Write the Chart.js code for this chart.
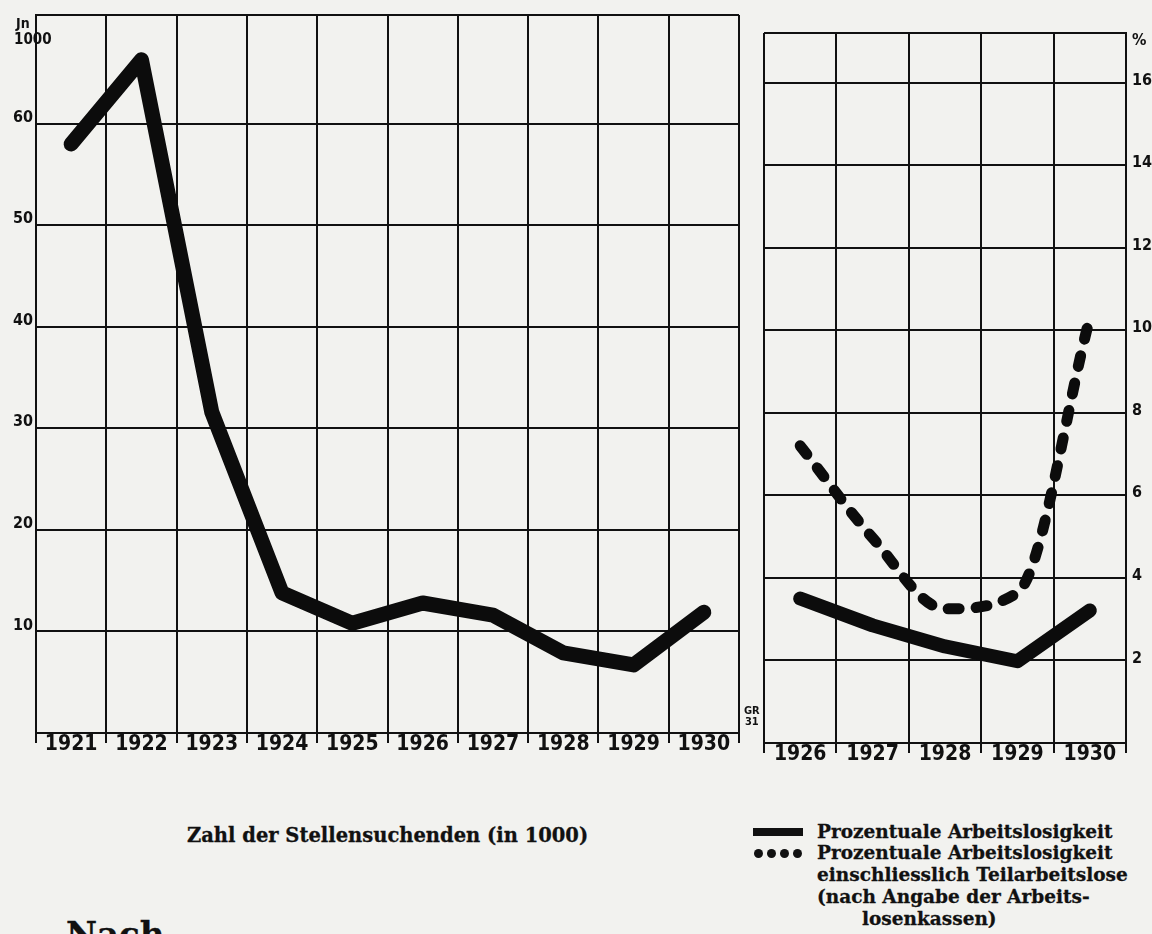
<!DOCTYPE html>
<html><head><meta charset="utf-8">
<script src="https://cdn.jsdelivr.net/npm/chart.js@4.4.0/dist/chart.umd.min.js"></script>
<style>
html,body{margin:0;padding:0;background:#f2f2ef;}
#wrap{position:relative;width:1152px;height:934px;overflow:hidden;background:#f2f2ef;}
canvas{position:absolute;}
#c1{left:0;top:0;}
#c2{left:740px;top:0;}
.t{position:absolute;font-family:'DejaVu Serif','Liberation Serif',serif;font-weight:bold;color:#111;white-space:nowrap;font-size:18.5px;line-height:22px;-webkit-text-stroke:0.3px #111;}
.s{position:absolute;font-family:'Liberation Sans Narrow','DejaVu Sans Condensed','DejaVu Sans',sans-serif;font-weight:bold;color:#111;white-space:nowrap;}
.dot{position:absolute;width:9px;height:9px;border-radius:50%;background:#111;top:849px;}
</style></head>
<body>
<div id="wrap">
<canvas id="c1" width="760" height="783"></canvas>
<canvas id="c2" width="412" height="793"></canvas>
<div class="s" style="left:16px;top:15px;font-size:14px;line-height:16px;">Jn</div>
<div class="s" style="left:14px;top:31px;font-size:15px;line-height:16px;">1000</div>
<div class="s" style="left:1132px;top:31px;font-size:16px;line-height:18px;">%</div>
<div class="s" style="left:744px;top:705px;font-size:11px;line-height:11px;text-align:center;">GR<br>31</div>
<div class="t" style="left:187px;top:825px;font-size:19.5px;">Zahl der Stellensuchenden (in 1000)</div>
<div style="position:absolute;left:753px;top:828px;width:50px;height:8px;background:#111;"></div>
<div class="dot" style="left:754px;"></div>
<div class="dot" style="left:767px;"></div>
<div class="dot" style="left:780px;"></div>
<div class="dot" style="left:793px;"></div>
<div class="t" style="left:817px;top:821px;">Prozentuale Arbeitslosigkeit</div>
<div class="t" style="left:817px;top:842px;">Prozentuale Arbeitslosigkeit</div>
<div class="t" style="left:817px;top:864px;">einschliesslich Teilarbeitslose</div>
<div class="t" style="left:817px;top:886px;">(nach Angabe der Arbeits-</div>
<div class="t" style="left:862px;top:908px;">losenkassen)</div>
<div class="t" style="left:66px;top:917px;font-size:34px;line-height:34px;">Nach</div>
</div>
<script>
// ---- data ----
const leftYears = ['1921','1922','1923','1924','1925','1926','1927','1928','1929','1930'];
const stellensuchende = [58.0, 66.3, 31.6, 13.8, 10.8, 12.8, 11.6, 7.9, 6.7, 11.9];
const rightYears = ['1926','1927','1928','1929','1930'];
const arbeitslosigkeit = [3.5, 2.85, 2.34, 1.98, 3.21];
const arbeitslosigkeitTeil = [7.2, 4.97, 3.25, 3.64, 10.3];
const leftTickValues = [0, 10, 20, 30, 40, 50, 60, 70.7];
const leftTickLabels = ['', '10', '20', '30', '40', '50', '60', ''];
const rightTickValues = [0, 2, 4, 6, 8, 10, 12, 14, 16, 17.2];
const rightTickLabels = ['', '2', '4', '6', '8', '10', '12', '14', '16', ''];

const INK = '#111';
const narrow = "'Liberation Sans Narrow','DejaVu Sans Condensed','DejaVu Sans',sans-serif";

function xScale() {
  return {
    type: 'category', offset: true,
    grid: {display: true, offset: true, color: INK, lineWidth: 2, drawTicks: true, tickLength: 10},
    border: {display: true, color: INK, width: 2},
    ticks: {color: INK, autoSkip: false, maxRotation: 0, padding: -11,
            font: {family: narrow, size: 21, weight: 'bold'}},
    afterFit: s => { s.height = 50; }
  };
}
function yScale(pos, max, vals, labels, width, pad, off, size) {
  return {
    type: 'linear', position: pos, min: 0, max: max,
    grid: {color: INK, lineWidth: 2, drawTicks: false},
    border: {display: true, color: INK, width: 2},
    afterBuildTicks: s => { s.ticks = vals.map(v => ({value: v})); },
    ticks: {color: INK, padding: pad, labelOffset: off,
            font: {family: narrow, size: size, weight: 'bold'},
            callback: (v, i) => labels[i]},
    afterFit: s => { s.width = width; }
  };
}

new Chart(document.getElementById('c1'), {
  type: 'line',
  data: {labels: leftYears, datasets: [{
    data: stellensuchende, borderColor: '#0c0c0c', borderWidth: 15,
    borderCapStyle: 'round', borderJoinStyle: 'round', pointRadius: 0, tension: 0, fill: false
  }]},
  options: {
    responsive: false, animation: false,
    layout: {padding: {left: 0, right: 21, top: 15, bottom: 0}},
    plugins: {legend: {display: false}, tooltip: {enabled: false}},
    scales: {
      x: xScale(),
      y: yScale('left', 70.7, leftTickValues, leftTickLabels, 36, 3, -6, 16)
    }
  }
});

new Chart(document.getElementById('c2'), {
  type: 'line',
  data: {labels: rightYears, datasets: [{
    data: arbeitslosigkeit, borderColor: '#0c0c0c', borderWidth: 14,
    borderCapStyle: 'round', borderJoinStyle: 'round', pointRadius: 0, tension: 0, fill: false
  }, {
    data: arbeitslosigkeitTeil, borderColor: '#0c0c0c', borderWidth: 11,
    borderDash: [11, 17], borderCapStyle: 'round', borderJoinStyle: 'round',
    pointRadius: 0, cubicInterpolationMode: 'monotone', fill: false
  }]},
  options: {
    responsive: false, animation: false,
    layout: {padding: {left: 24, right: 0, top: 33, bottom: 0}},
    plugins: {legend: {display: false}, tooltip: {enabled: false}},
    scales: {
      x: xScale(),
      y: yScale('right', 17.2, rightTickValues, rightTickLabels, 26, 6, -2, 16)
    }
  }
});
</script>
</body></html>
